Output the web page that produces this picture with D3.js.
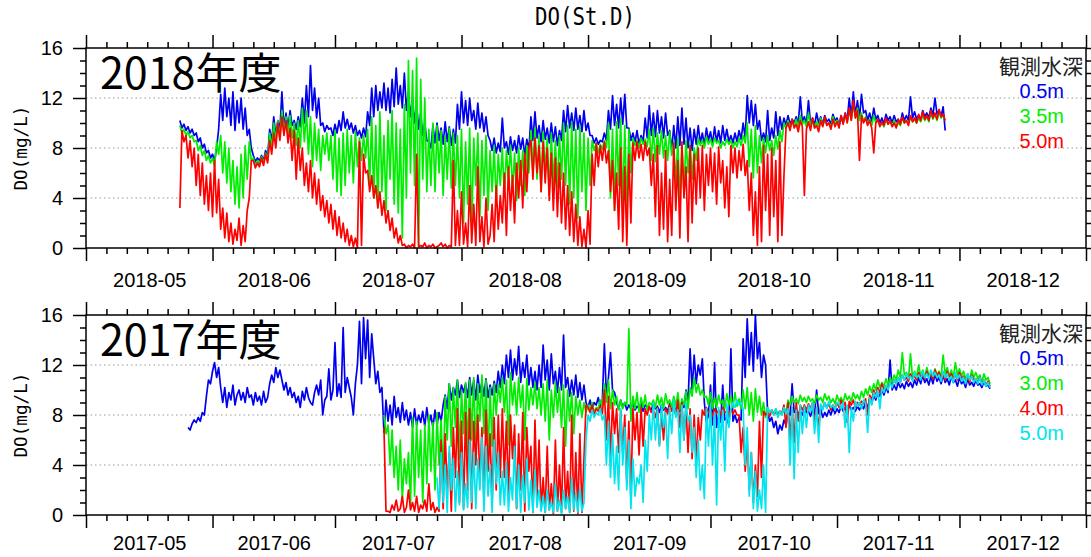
<!DOCTYPE html>
<html>
<head>
<meta charset="utf-8">
<script src="https://cdn.jsdelivr.net/npm/d3@7"></script>
<style>
body { margin: 0; background: #fff; }
</style>
</head>
<body>
<div class="chart"></div>
<script>
var width = 1091;
var height = 557;

// DO (mg/L), one reading every 12 hours from the start date

// 2018
var start2018 = new Date(2018, 4, 24);
var do2018_05 = [
  10.2,9.6, 9.9,9.4, 9.7,9.2, 9.5,9.0, 9.2,8.5,
  8.8,8.0, 8.3,7.6, 7.8,7.2, 7.5,7.0, 8.0,9.5,
  12.3,10.2, 12.8,10.5, 12.0,9.8, 12.5,9.4, 11.8,10.0,
  12.0,9.5, 11.2,9.0, 9.5,8.0, 7.4,6.9, 7.2,7.0,
  7.4,7.0, 7.8,7.3, 9.5,8.5, 10.5,9.0, 10.2,9.4,
  12.5,9.6, 10.8,9.6, 11.0,9.8, 10.2,9.5, 10.5,9.7,
  12.0,10.0, 13.0,10.5, 14.6,11.0, 12.8,10.4, 12.0,9.8,
  10.0,9.3, 9.8,9.5, 9.6,9.0, 9.9,9.2, 10.2,9.4,
  10.9,9.6, 10.3,9.5, 10.0,9.2, 9.8,9.0, 9.4,8.8,
  9.6,8.9, 10.9,9.8, 12.8,10.5, 13.0,11.0, 12.5,11.2,
  13.2,11.0, 12.8,10.8, 13.5,11.3, 14.4,11.5, 13.0,11.2,
  14.0,11.0, 12.5,10.5, 12.0,10.0, 11.5,9.5, 10.8,9.0,
  10.0,8.6, 8.5,8.0, 9.8,8.4, 10.0,8.6, 9.6,8.3,
  10.1,8.5, 9.7,8.2, 9.5,8.4, 11.5,9.5, 12.5,10.0,
  11.8,9.8, 12.0,10.2, 11.0,9.5, 11.6,9.6, 10.8,9.3,
  10.5,9.0, 8.6,7.8, 8.8,7.6, 8.4,7.7, 10.4,8.0,
  8.5,7.5, 8.9,7.8, 8.6,7.6, 9.0,7.9, 8.8,7.4,
  8.7,7.8, 10.5,8.6, 10.9,8.8, 9.8,8.5, 10.2,8.7,
  9.6,8.4, 10.0,8.5, 9.7,8.2, 9.4,8.6, 11.0,9.3,
  11.4,9.6, 10.8,9.4, 11.2,9.5, 10.6,9.3, 11.0,9.4,
  10.0,9.0, 9.0,8.4, 8.8,8.3, 8.6,8.5, 9.2,8.6,
  11.0,9.5, 12.2,9.8, 11.5,9.6, 12.0,9.9, 12.3,9.6,
  9.6,8.6, 9.2,8.4, 9.4,8.3, 9.0,8.5, 10.4,8.8,
  11.4,9.0, 10.8,8.9, 11.0,9.2, 10.5,8.8, 10.8,9.0,
  9.4,7.8, 9.8,8.0, 10.5,8.2, 11.2,8.3, 10.4,8.0,
  9.6,7.8, 9.5,8.3, 9.8,8.4, 9.2,8.2, 9.6,8.6,
  9.3,8.3, 9.7,8.5, 9.4,8.4, 9.8,8.6, 9.5,8.5,
  9.0,8.4, 9.2,8.5, 9.4,8.7, 10.0,8.8, 12.2,10.0,
  11.8,9.8, 11.5,9.5, 10.2,8.6, 9.2,8.5, 11.0,8.6,
  9.6,8.8, 10.9,9.0, 10.5,9.5, 10.4,9.8, 10.6,9.9,
  10.3,10.0, 10.5,9.9, 12.1,10.1, 10.5,9.9, 11.8,10.0,
  10.4,9.8, 10.8,10.0, 10.5,9.9, 10.6,10.1, 10.3,9.9,
  10.7,10.2, 10.4,9.8, 10.6,10.0, 10.8,10.2, 12.0,10.5,
  12.5,10.6, 11.8,10.4, 12.3,10.8, 11.0,10.2, 10.8,10.1,
  11.2,10.3, 10.6,10.0, 10.4,9.9, 10.7,10.2, 10.5,10.0,
  10.6,10.1, 10.3,9.9, 10.8,10.2, 10.6,10.2, 12.1,10.4,
  10.9,10.3, 10.6,10.2, 11.0,10.5, 10.8,10.4, 11.2,10.6,
  12.0,10.7, 11.0,10.5, 11.3,9.4
];
var do2018_35 = [
  9.8,9.2, 9.5,9.0, 9.3,8.8, 9.0,8.5, 8.6,7.8,
  8.2,7.4, 7.8,7.0, 7.4,6.8, 7.2,6.5, 8.5,7.5,
  9.0,6.0, 8.5,5.2, 8.0,4.5, 7.0,3.5, 6.5,3.2,
  7.5,4.0, 8.2,5.5, 8.5,7.0, 7.2,6.6, 7.0,6.7,
  7.3,6.8, 7.6,7.0, 9.2,8.0, 10.0,8.5, 10.2,8.8,
  11.0,9.2, 10.5,9.0, 10.6,8.8, 10.0,8.2, 10.2,8.0,
  11.2,8.5, 11.0,7.5, 10.5,6.5, 10.0,7.0, 9.5,6.2,
  9.0,7.5, 9.2,7.0, 9.0,5.5, 9.4,4.5, 8.8,4.2,
  9.2,5.0, 9.5,6.0, 9.0,5.2, 9.3,6.5, 8.8,7.0,
  9.0,7.2, 9.5,5.0, 10.5,4.0, 9.8,3.2, 10.9,4.5,
  9.0,3.0, 10.2,5.5, 11.0,3.5, 10.0,2.8, 9.5,0.8,
  11.5,4.0, 15.0,6.0, 14.2,5.0, 15.2,0.2, 13.5,5.5,
  12.0,4.5, 9.5,5.0, 10.0,4.5, 9.8,6.0, 9.4,4.2,
  9.0,5.5, 9.6,4.8, 9.2,5.0, 9.0,4.0, 9.5,2.0,
  8.5,3.5, 9.6,1.6, 8.8,5.0, 9.2,2.5, 8.6,4.2,
  9.0,3.0, 7.8,4.5, 8.2,3.5, 7.5,5.0, 8.0,4.0,
  7.8,5.5, 8.2,4.5, 7.6,3.8, 8.0,5.0, 7.8,4.2,
  8.2,6.0, 9.4,6.0, 9.6,5.5, 9.0,4.5, 9.3,6.2,
  8.8,4.2, 9.2,5.0, 8.6,4.8, 9.0,5.5, 10.0,5.0,
  9.8,3.5, 10.1,4.0, 9.5,2.4, 9.8,4.5, 9.2,3.0,
  8.8,5.0, 8.6,7.8, 8.4,7.6, 8.3,7.9, 8.6,8.0,
  10.0,4.0, 9.5,3.0, 10.1,5.0, 10.4,3.0, 9.8,2.9,
  9.5,6.0, 8.8,8.2, 8.6,8.0, 8.8,8.3, 8.7,8.1,
  9.5,7.0, 9.6,6.9, 9.2,7.5, 9.4,7.2, 9.0,7.0,
  9.3,7.4, 8.5,5.0, 8.8,3.7, 8.2,4.5, 8.6,6.0,
  8.4,5.5, 8.0,7.0, 8.8,8.2, 8.6,8.0, 8.9,8.3,
  8.7,8.1, 8.8,8.4, 8.6,8.0, 8.5,8.2, 8.7,8.3,
  8.6,8.0, 8.5,8.1, 8.8,8.2, 9.0,8.4, 10.0,6.5,
  9.5,5.6, 9.8,6.0, 9.0,6.8, 8.8,7.6, 9.0,7.8,
  8.6,7.4, 9.0,7.9, 9.4,8.5, 10.0,9.6, 10.2,9.7,
  10.1,9.8, 10.3,9.6, 10.6,9.9, 10.2,9.7, 10.8,9.8,
  10.3,9.6, 10.1,9.7, 10.4,9.8, 10.2,9.9, 10.0,9.7,
  10.5,9.9, 10.2,9.8, 10.4,10.0, 10.6,10.1, 11.0,10.3,
  11.5,10.4, 11.2,10.2, 10.8,10.1, 10.5,9.9, 10.3,9.8,
  10.6,10.0, 10.2,9.8, 10.0,9.7, 10.3,9.9, 10.1,9.8,
  10.2,9.7, 10.0,9.8, 10.4,10.0, 10.2,9.9, 10.5,10.1,
  10.3,10.0, 10.4,10.1, 10.6,10.2, 10.5,10.1, 10.8,10.3,
  10.7,10.2, 10.9,10.4, 10.6,10.2
];
var do2018_50 = [
  3.2,9.4, 8.5,9.0, 7.2,8.6, 6.5,8.0, 5.0,7.5,
  4.2,6.8, 3.5,5.8, 3.0,6.0, 2.5,7.0, 2.8,5.5,
  1.5,3.2, 0.8,2.8, 0.5,2.0, 0.3,1.5, 0.6,2.4,
  0.2,1.8, 0.5,3.0, 4.0,7.0, 7.0,6.4, 6.8,6.5,
  7.2,6.6, 7.5,6.8, 8.6,7.5, 9.2,8.0, 10.0,8.6,
  10.5,9.0, 10.2,8.4, 9.6,7.0, 9.4,5.5, 8.8,6.2,
  8.0,5.0, 6.8,4.5, 7.0,4.0, 6.0,3.5, 5.5,3.0,
  4.2,2.5, 3.8,2.0, 3.5,1.5, 3.0,1.0, 2.5,0.8,
  2.0,0.5, 1.5,0.2, 1.0,0.1, 0.8,0.0, 8.5,0.2,
  7.5,6.0, 6.2,4.5, 5.8,4.0, 5.0,3.2, 4.5,2.6,
  3.8,2.0, 3.0,1.4, 2.4,0.8, 1.6,0.4, 1.0,0.2,
  0.3,0.0, 0.2,0.1, 0.3,0.0, 7.5,0.1, 0.2,0.1,
  0.4,0.0, 0.2,0.1, 0.3,0.0, 0.1,0.2, 0.4,0.1,
  0.3,0.0, 0.2,0.1, 7.0,0.2, 3.0,0.2, 4.5,0.3,
  2.0,0.1, 5.0,0.4, 3.5,0.2, 6.5,0.5, 2.5,0.1,
  4.0,0.3, 1.0,3.5, 0.5,5.0, 1.5,4.2, 2.0,6.0,
  1.0,6.5, 3.0,5.8, 2.0,6.8, 4.0,7.0, 3.2,7.6,
  4.5,8.0, 8.6,5.5, 8.8,6.0, 8.2,4.5, 8.5,5.2,
  8.0,3.8, 7.6,3.0, 7.2,2.5, 6.8,2.0, 6.0,1.5,
  5.0,1.0, 4.5,0.5, 3.5,0.2, 2.5,0.1, 1.5,0.0,
  3.0,0.3, 7.5,5.0, 8.4,6.5, 8.2,7.0, 8.5,6.8,
  7.8,4.5, 7.0,3.0, 6.0,1.5, 8.0,0.5, 6.5,0.2,
  7.5,2.0, 8.4,7.0, 8.5,7.2, 8.3,7.0, 8.5,7.4,
  8.0,5.0, 7.5,2.5, 8.2,1.0, 6.0,1.5, 7.8,0.5,
  5.5,1.0, 8.4,3.0, 7.0,0.8, 8.5,4.0, 6.5,0.5,
  8.2,2.0, 7.5,3.5, 8.0,4.0, 8.2,3.0, 7.5,5.0,
  8.0,4.5, 7.6,3.5, 8.1,5.2, 7.0,3.2, 6.5,2.5,
  8.2,6.0, 8.0,5.6, 7.8,6.2, 8.3,5.8, 7.0,3.0,
  6.0,1.0, 4.5,0.2, 6.5,0.5, 8.2,3.0, 7.5,1.0,
  8.0,2.5, 7.0,0.5, 8.5,1.0, 5.8,9.6, 10.0,9.4,
  10.3,9.6, 9.9,9.3, 10.2,9.7, 4.2,9.5, 10.1,9.4,
  10.4,9.6, 9.8,9.3, 10.2,9.7, 10.5,9.8, 10.0,9.5,
  10.3,9.7, 10.1,9.6, 10.6,9.9, 10.8,10.0, 11.2,10.2,
  11.8,10.4, 11.0,7.0, 10.6,10.0, 10.4,9.8, 10.2,9.6,
  7.6,10.0, 10.3,9.7, 10.1,9.8, 10.4,9.9, 10.2,9.7,
  10.0,9.6, 10.3,9.9, 10.5,10.0, 10.2,9.8, 10.6,10.1,
  10.4,10.0, 10.7,10.2, 10.9,10.3, 10.6,10.2, 11.0,10.4,
  10.8,10.3, 11.1,10.5, 10.7,10.2
];

// 2017
var start2017_05 = new Date(2017, 4, 26);
var do2017_05 = [
  7.0,6.8, 7.3,7.6, 7.4,7.8, 7.5,8.2, 8.0,9.5,
  10.8,10.5, 11.5,12.2, 11.0,11.8, 10.2,9.0, 10.2,8.6,
  9.8,9.2, 10.4,8.8, 9.6,10.0, 9.2,9.8, 9.0,10.2,
  9.4,9.6, 8.8,9.8, 9.1,9.5, 8.8,9.9, 9.0,9.4,
  10.5,11.2, 10.6,11.8, 11.0,11.6, 10.8,10.0, 10.6,9.6,
  10.2,9.4, 9.8,9.0, 9.5,8.6, 9.9,9.2, 10.2,9.4,
  9.0,8.8, 9.8,10.4, 9.6,10.8, 8.0,9.2, 9.5,11.7,
  9.2,10.0, 13.8,9.5, 10.5,9.4, 15.0,9.8, 11.0,10.2,
  9.4,8.0, 10.5,12.0, 15.5,10.5, 15.8,12.5, 15.6,11.0,
  14.5,12.5, 10.5,11.5, 9.8,10.2, 6.6,9.2, 7.5,8.8,
  7.2,9.5, 7.8,8.6, 7.4,9.0, 7.6,8.4, 7.2,8.2,
  7.0,8.5, 7.2,8.0, 7.4,8.3, 7.1,8.6, 7.3,8.0,
  7.0,8.4, 7.2,8.2, 7.5,8.8, 9.6,8.5, 10.5,9.2,
  10.2,9.6, 10.8,9.4, 10.4,9.8, 10.5,9.4, 11.0,9.6,
  10.8,9.2, 11.2,9.8, 10.6,9.5, 10.9,9.4, 10.4,9.6,
  10.7,9.8, 11.5,10.2, 12.0,10.5, 12.8,11.0, 13.2,10.8,
  12.5,11.2, 13.5,10.6, 12.2,11.0, 12.8,10.4, 11.8,10.2,
  11.5,10.0, 12.0,10.2, 13.6,10.8, 12.4,10.0, 12.9,10.5,
  11.5,9.8, 11.8,10.0, 14.4,10.2, 11.0,9.5, 10.8,9.6,
  11.2,9.4, 10.6,9.2, 10.4,9.0, 8.6,9.2, 8.4,9.0,
  8.8,9.4, 8.7,9.1, 13.7,9.5, 11.0,13.0, 10.0,9.8,
  9.0,8.5, 9.2,8.6, 9.0,8.4, 8.8,8.5, 8.9,8.4,
  8.7,8.5, 9.0,8.3, 8.8,8.6, 8.6,8.4, 8.9,8.5,
  8.7,8.2, 8.8,8.4, 8.6,8.3, 8.9,8.5, 8.7,8.4,
  8.8,8.3, 9.0,8.6, 10.0,9.0, 13.3,10.0, 12.8,10.5,
  12.0,11.2, 12.5,9.0, 7.4,8.0, 10.4,7.2, 12.2,7.0,
  8.0,7.4, 10.4,7.6, 7.8,7.2, 13.3,7.5, 8.0,7.4,
  7.8,7.6, 14.1,11.0, 15.7,12.0, 14.6,11.5, 16.0,12.5,
  13.8,11.0, 12.8,12.0, 8.2,7.5, 7.8,7.0, 7.5,6.5,
  7.2,6.8, 7.6,7.2, 8.2,8.0, 10.5,8.2, 8.4,8.1,
  8.3,8.0, 8.5,8.2, 8.3,7.9, 8.4,8.0, 10.0,8.1,
  8.5,7.8, 8.2,7.9, 8.4,8.0, 8.6,8.1, 8.5,8.2,
  8.7,8.3, 8.6,8.2, 8.8,8.4, 8.6,8.3, 8.7,8.4,
  8.8,8.5, 9.0,8.6, 9.3,8.9, 9.6,9.2, 9.8,9.5,
  10.0,9.6, 10.2,9.8, 12.4,10.0, 10.4,10.0, 10.6,10.2,
  10.5,10.1, 10.7,10.3, 10.6,10.2, 10.8,10.4, 11.0,10.5,
  11.2,10.6, 10.9,10.4, 11.1,10.5, 11.3,10.7, 11.0,10.5,
  11.2,10.6, 10.9,10.4, 11.1,10.6, 10.8,10.3, 11.0,10.5,
  10.7,10.2, 10.9,10.4, 10.6,10.3, 10.8,10.4, 10.5,10.2,
  10.7,10.3, 10.4,10.1
];
var start2017_30 = new Date(2017, 6, 13);
var do2017_30 = [
  8.0,6.5, 7.2,4.0, 6.8,3.0, 5.5,2.0, 6.0,1.2,
  4.5,2.5, 5.0,0.8, 7.8,1.5, 7.5,3.0, 6.8,1.0,
  7.2,2.5, 8.0,3.5, 7.4,2.0, 8.2,4.0, 7.6,3.0,
  9.5,6.0, 10.5,5.5, 10.2,7.0, 10.8,4.5, 10.0,6.5,
  10.6,5.0, 10.8,6.0, 11.0,5.0, 10.5,7.5, 11.2,6.5,
  10.8,4.5, 10.2,5.5, 10.5,8.0, 10.5,9.0, 11.0,8.2,
  10.8,5.6, 11.4,8.8, 10.6,8.0, 11.0,8.6, 10.4,6.0,
  10.9,8.4, 10.2,8.8, 10.6,8.5, 10.2,8.0, 10.5,7.5,
  10.8,6.0, 10.0,7.8, 10.6,8.2, 10.2,7.0, 10.4,5.5,
  10.0,7.5, 9.8,6.5, 9.5,8.0, 9.2,7.8, 9.0,8.2,
  8.8,8.4, 9.0,8.2, 8.6,8.5, 9.2,8.6, 10.5,9.0,
  10.8,8.5, 10.0,8.8, 9.5,8.4, 9.2,8.5, 9.0,8.8,
  14.9,7.5, 9.5,8.5, 9.8,8.2, 9.4,8.6, 9.6,8.4,
  9.0,8.8, 9.2,8.6, 9.6,8.8, 9.4,8.5, 9.7,8.9,
  9.2,8.6, 9.5,8.7, 9.8,8.4, 9.3,8.8, 9.9,8.5,
  10.2,9.5, 11.0,9.8, 10.5,9.6, 10.0,9.4, 9.5,8.8,
  9.8,8.5, 9.4,8.6, 9.6,8.9, 9.2,8.5, 9.7,8.8,
  9.5,8.6, 9.8,8.7, 9.3,8.5, 10.0,8.5, 10.2,8.0,
  9.8,7.5, 10.1,8.2, 9.5,8.0, 9.0,7.8, 8.6,8.2,
  8.4,8.0, 8.5,8.1, 8.3,8.0, 8.6,8.2, 9.2,8.8,
  9.5,9.0, 9.3,8.9, 9.6,9.1, 9.4,9.0, 9.5,9.1,
  9.3,8.9, 9.6,9.2, 9.4,9.0, 9.7,9.2, 9.5,9.0,
  9.3,8.9, 9.6,9.1, 9.4,9.0, 9.7,9.2, 9.5,9.1,
  9.8,9.3, 9.6,9.2, 9.9,9.4, 10.1,9.6, 10.3,9.8,
  10.5,10.0, 10.8,10.2, 10.6,10.3, 10.9,10.4, 11.0,10.6,
  11.2,10.8, 11.6,11.0, 13.0,11.2, 11.4,10.9, 12.9,11.0,
  11.5,11.0, 12.0,11.1, 11.6,11.0, 11.8,11.2, 11.4,10.9,
  11.7,11.2, 11.5,11.0, 12.8,11.3, 11.8,11.1, 11.6,11.0,
  12.2,11.2, 11.7,11.1, 11.5,10.9, 11.3,10.8, 11.6,11.0,
  11.4,10.9, 11.2,10.6, 11.3,10.8, 11.0,10.5
];
var start2017_40 = new Date(2017, 6, 13);
var do2017_40 = [
  7.0,0.3, 0.3,0.2, 0.8,0.4, 1.2,0.3, 0.5,1.5,
  0.2,0.6, 2.0,0.4, 1.0,0.3, 1.5,0.2, 0.8,0.5,
  1.2,0.3, 2.5,0.4, 1.0,0.2, 0.6,0.3, 6.0,0.5,
  6.5,2.0, 5.0,0.3, 7.0,3.0, 8.5,1.0, 7.5,0.5,
  8.2,2.0, 8.5,0.5, 7.5,4.0, 8.0,2.5, 7.0,1.0,
  8.4,3.5, 6.5,0.8, 7.8,2.0, 8.0,3.0, 8.5,3.0,
  7.5,1.5, 8.0,4.5, 7.2,0.5, 6.5,2.0, 8.2,0.3,
  7.0,3.5, 5.5,0.2, 7.6,1.5, 6.0,0.4, 3.0,0.2,
  5.5,0.4, 2.5,0.1, 6.0,0.3, 4.0,0.2, 7.0,0.5,
  3.5,0.2, 8.0,0.3, 5.0,0.1, 6.5,0.2, 4.5,8.8,
  8.6,8.2, 8.8,8.0, 8.5,8.3, 8.7,8.1, 10.0,6.0,
  9.5,4.5, 9.0,6.5, 8.5,5.0, 8.4,5.0, 8.0,2.5,
  7.5,1.3, 8.5,6.0, 8.2,4.8, 8.6,5.5, 8.5,8.0,
  8.7,8.2, 8.4,7.8, 8.6,5.6, 8.2,6.0, 8.5,8.1,
  8.8,8.3, 8.6,8.0, 9.2,7.0, 9.0,6.0, 8.8,5.0,
  8.5,4.5, 8.0,4.2, 7.8,6.0, 8.4,8.0, 8.6,8.2,
  8.3,7.9, 8.5,8.1, 8.4,8.0, 8.6,8.2, 8.3,8.0,
  8.5,8.1, 8.4,8.0, 8.0,5.0, 7.0,3.5, 6.0,2.0,
  5.0,1.0, 4.0,1.5, 7.5,3.0, 8.3,8.0, 8.2,7.9,
  8.4,8.1, 8.2,8.0, 8.3,8.1, 8.8,7.0, 9.0,6.0,
  8.6,5.8, 9.0,7.5, 8.8,8.4, 8.8,8.4, 8.9,8.5,
  9.0,7.2, 8.6,6.9, 8.8,8.5, 9.0,8.6, 8.9,8.4,
  8.8,8.5, 9.0,8.6, 9.2,8.7, 9.0,7.4, 9.1,8.8,
  9.2,8.6, 9.0,8.8, 9.1,8.9, 9.3,8.0, 9.6,9.2,
  10.0,9.5, 10.2,9.8, 10.5,10.0, 10.3,10.2, 10.6,10.3,
  10.8,10.5, 11.0,10.6, 11.2,10.8, 11.0,10.7, 11.3,10.9,
  11.1,10.8, 11.4,11.0, 11.2,10.9, 11.5,11.0, 11.3,10.9,
  11.6,11.1, 11.4,11.0, 11.2,10.8, 11.5,11.0, 11.3,10.9,
  11.2,10.8, 11.4,10.9, 11.1,10.7, 11.0,10.6, 11.2,10.8,
  10.9,10.6, 11.0,10.5, 10.8,10.4, 10.7,10.3
];
var start2017_50 = new Date(2017, 6, 26);
var do2017_50 = [
  3.0,0.5, 5.0,1.0, 4.0,0.2, 5.5,2.0, 4.5,0.3,
  3.5,0.8, 5.0,0.4, 2.5,0.6, 6.0,1.0, 5.0,0.5,
  4.5,2.0, 6.2,0.3, 5.5,1.5, 4.0,0.2, 6.0,2.5,
  5.0,0.8, 3.5,0.8, 4.2,0.3, 3.0,1.2, 5.5,0.5,
  4.0,0.2, 3.2,1.0, 4.5,0.4, 2.8,0.2, 3.6,0.6,
  2.0,0.3, 1.5,0.2, 2.0,0.4, 1.0,0.2, 2.5,0.3,
  1.2,0.1, 2.0,0.5, 1.5,0.2, 3.0,0.4, 1.8,0.2,
  2.2,0.3, 1.0,6.0, 8.0,7.5, 8.4,7.8, 8.2,8.0,
  8.5,7.6, 8.0,4.0, 7.5,3.0, 6.5,2.5, 5.5,2.0,
  8.5,4.0, 7.0,2.0, 6.0,0.5, 4.5,1.5, 3.0,2.5,
  4.0,1.0, 6.0,3.5, 8.0,6.0, 9.0,6.0, 8.5,5.5,
  8.8,7.0, 8.2,4.5, 8.6,6.5, 9.2,7.8, 8.4,5.0,
  8.8,6.0, 9.0,7.5, 8.0,5.0, 7.0,3.0, 6.0,2.0,
  4.0,1.3, 8.5,5.5, 8.8,4.0, 8.2,0.8, 8.6,6.0,
  8.4,3.5, 8.9,7.0, 8.5,9.0, 8.6,9.2, 8.8,9.0,
  8.5,4.0, 7.0,1.5, 5.0,0.5, 3.5,0.3, 2.0,0.5,
  4.0,0.2, 8.6,8.2, 8.4,8.0, 8.5,7.8, 8.3,8.0,
  8.6,8.1, 8.5,4.0, 8.6,2.9, 8.4,5.0, 8.8,6.5,
  8.7,7.0, 8.8,8.3, 9.0,6.5, 8.6,5.8, 8.9,8.4,
  9.0,8.5, 9.1,8.6, 8.8,8.4, 9.0,8.9, 8.5,9.0,
  7.0,8.8, 5.0,8.6, 7.5,9.1, 8.7,9.0, 8.5,9.2,
  9.0,6.6, 9.4,8.8, 9.8,9.4, 10.0,8.5, 10.2,9.8,
  10.4,10.0, 10.6,10.2, 10.8,10.5, 11.0,10.6, 11.2,10.8,
  11.3,10.9, 11.1,10.7, 11.4,11.0, 11.2,10.8, 11.5,11.0,
  11.3,10.9, 11.6,11.1, 11.4,11.0, 11.2,10.7, 11.5,11.0,
  11.3,10.8, 11.1,10.6, 11.4,10.9, 11.2,10.7, 11.0,10.5,
  11.3,10.8, 11.1,10.6, 10.9,10.5, 11.0,10.4, 10.8,10.3,
  10.6,10.2
];

var depths2018 = ['0.5m', '3.5m', '5.0m'];
var colors2018 = ['#0000f0', '#00ee00', '#ff0000'];
var depths2017 = ['0.5m', '3.0m', '4.0m', '5.0m'];
var colors2017 = ['#0000f0', '#00ee00', '#ff0000', '#00e5ef'];
var yTicks = [0, 4, 8, 12, 16];
var gridValues = [4, 8, 12];

var svg = d3.select('.chart')
  .append('svg')
  .attr('width', width)
  .attr('height', height)

svg.append('rect')
  .attr('width', width)
  .attr('height', height)
  .attr('fill', '#fff')

svg.append('text')
  .attr('x', 585)
  .attr('y', 25)
  .attr('text-anchor', 'middle')
  .attr('textLength', 100)
  .attr('lengthAdjust', 'spacingAndGlyphs')
  .style('font-family', '"DejaVu Sans Mono", monospace')
  .style('font-size', '24px')
  .text('DO(St.D)')

function toPoints(start, values) {
  return values.map(function(v, i) {
    return { t: d3.timeHour.offset(start, i * 12), v: v };
  })
}

function styleAxis(g) {
  g.select('.domain').remove()
  g.selectAll('.tick line').attr('stroke', '#000').attr('stroke-width', 1.5)
  g.attr('font-family', '"Liberation Sans", Arial, sans-serif').attr('font-size', 20)
  g.selectAll('.tick text').attr('fill', '#000')
}

function drawPanel(top, year, title, series, depths, colors, labelPad) {
  var left = 86, right = 1086, bottom = top + 200;
  var x = d3.scaleTime()
    .domain([new Date(year, 4, 1), new Date(year + 1, 0, 1)])
    .range([left, right])
  var y = d3.scaleLinear().domain([0, 16]).range([bottom, top])

  var g = svg.append('g')

  g.selectAll('.grid')
    .data(gridValues)
    .enter().append('line')
    .attr('x1', left).attr('x2', right)
    .attr('y1', function(d) { return y(d) })
    .attr('y2', function(d) { return y(d) })
    .attr('stroke', '#999')
    .attr('stroke-width', 1)
    .attr('stroke-dasharray', '1.5,3')

  var line = d3.line()
    .x(function(d) { return x(d.t) })
    .y(function(d) { return y(d.v) })

  series.forEach(function(s, i) {
    g.append('path')
      .datum(toPoints(s.start, s.values))
      .attr('d', line)
      .attr('fill', 'none')
      .attr('stroke', colors[i])
      .attr('stroke-width', 1.7)
      .attr('stroke-linejoin', 'round')
  })

  var months = d3.timeMonth.range(new Date(year, 4, 1), new Date(year + 1, 0, 2))
  var minorDays = d3.timeDay.range(new Date(year, 4, 1), new Date(year + 1, 0, 1))
    .filter(function(d) { return [6, 11, 16, 21, 26].indexOf(d.getDate()) >= 0 })
  var mids = d3.timeMonth.range(new Date(year, 4, 1), new Date(year + 1, 0, 1))
    .map(function(m) { return new Date((+m + +d3.timeMonth.offset(m, 1)) / 2) })
  var minorY = d3.range(0, 17).filter(function(v) { return v % 4 !== 0 })

  // bottom
  g.append('g').attr('transform', 'translate(0,' + bottom + ')')
    .call(d3.axisBottom(x).tickValues(months).tickSize(13).tickSizeOuter(0).tickFormat(''))
    .call(styleAxis)
  g.append('g').attr('transform', 'translate(0,' + bottom + ')')
    .call(d3.axisBottom(x).tickValues(minorDays).tickSize(6).tickSizeOuter(0).tickFormat(''))
    .call(styleAxis)
  g.append('g').attr('transform', 'translate(0,' + bottom + ')')
    .call(d3.axisBottom(x).tickValues(mids).tickSize(0).tickPadding(labelPad).tickFormat(d3.timeFormat('%Y-%m')))
    .call(styleAxis)

  // top
  g.append('g').attr('transform', 'translate(0,' + top + ')')
    .call(d3.axisTop(x).tickValues(months).tickSize(13).tickSizeOuter(0).tickFormat(''))
    .call(styleAxis)
  g.append('g').attr('transform', 'translate(0,' + top + ')')
    .call(d3.axisTop(x).tickValues(minorDays).tickSize(6).tickSizeOuter(0).tickFormat(''))
    .call(styleAxis)

  // left
  g.append('g').attr('transform', 'translate(' + left + ',0)')
    .call(d3.axisLeft(y).tickValues(yTicks).tickSize(13).tickSizeOuter(0).tickPadding(10))
    .call(styleAxis)
  g.append('g').attr('transform', 'translate(' + left + ',0)')
    .call(d3.axisLeft(y).tickValues(minorY).tickSize(6).tickSizeOuter(0).tickFormat(''))
    .call(styleAxis)

  // right
  g.append('g').attr('transform', 'translate(' + right + ',0)')
    .call(d3.axisRight(y).tickValues(yTicks).tickSize(13).tickSizeOuter(0).tickFormat(''))
    .call(styleAxis)
  g.append('g').attr('transform', 'translate(' + right + ',0)')
    .call(d3.axisRight(y).tickValues(minorY).tickSize(6).tickSizeOuter(0).tickFormat(''))
    .call(styleAxis)

  g.append('rect')
    .attr('x', left).attr('y', top)
    .attr('width', right - left).attr('height', bottom - top)
    .attr('fill', 'none')
    .attr('stroke', '#000')
    .attr('stroke-width', 1.5)

  g.append('text')
    .attr('transform', 'translate(20,' + (top + 100) + ') rotate(-90)')
    .attr('text-anchor', 'middle')
    .attr('dominant-baseline', 'central')
    .attr('textLength', 85)
    .attr('lengthAdjust', 'spacingAndGlyphs')
    .style('font-family', '"DejaVu Sans Mono", monospace')
    .style('font-size', '18px')
    .text('DO(mg/L)')

  g.append('text')
    .attr('x', 100)
    .attr('y', top + 41)
    .style('font-family', '"Noto Sans CJK JP", sans-serif')
    .style('font-size', '43px')
    .attr('fill', '#000')
    .text(title)

  g.append('text')
    .attr('x', 1083)
    .attr('y', top + 26)
    .attr('text-anchor', 'end')
    .style('font-family', '"Noto Sans CJK JP", sans-serif')
    .style('font-size', '21px')
    .attr('fill', '#222')
    .text('観測水深')

  g.selectAll('.legend')
    .data(depths)
    .enter().append('text')
    .attr('x', 1064)
    .attr('y', function(d, i) { return top + 50 + i * 25 })
    .attr('text-anchor', 'end')
    .style('font-family', '"Liberation Sans", Arial, sans-serif')
    .style('font-size', '20px')
    .attr('fill', function(d, i) { return colors[i] })
    .text(function(d) { return d })
}

drawPanel(48, 2018, '2018年度', [
  { start: start2018, values: do2018_05 },
  { start: start2018, values: do2018_35 },
  { start: start2018, values: do2018_50 }
], depths2018, colors2018, 25)

drawPanel(315, 2017, '2017年度', [
  { start: start2017_05, values: do2017_05 },
  { start: start2017_30, values: do2017_30 },
  { start: start2017_40, values: do2017_40 },
  { start: start2017_50, values: do2017_50 }
], depths2017, colors2017, 21)
</script>
</body>
</html>
